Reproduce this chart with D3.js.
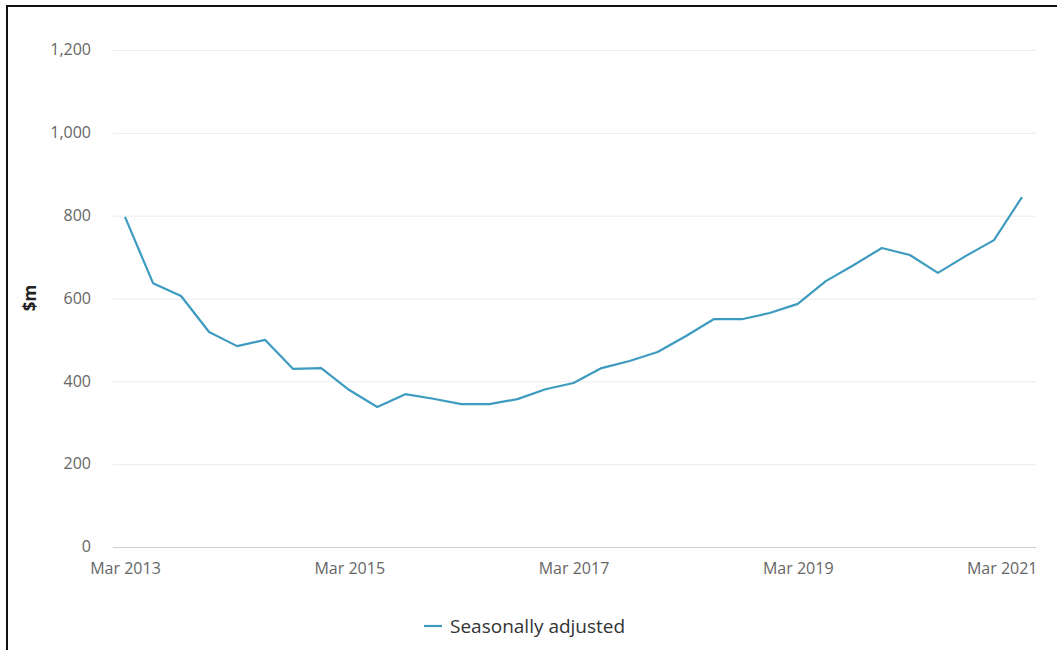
<!DOCTYPE html>
<html>
<head>
<meta charset="utf-8">
<script src="https://cdn.jsdelivr.net/npm/d3@7"></script>
<style>
  html, body { margin: 0; padding: 0; background: #fff; }
  svg { display: block; font-family: "Open Sans", "Noto Sans", sans-serif; }
  svg text { font-family: "Open Sans", "Noto Sans", sans-serif; }
</style>
</head>
<body>
<svg id="chart" width="1057" height="650"></svg>
<script>
const quarters = ["Mar 2013","Jun 2013","Sep 2013","Dec 2013","Mar 2014","Jun 2014","Sep 2014","Dec 2014",
  "Mar 2015","Jun 2015","Sep 2015","Dec 2015","Mar 2016","Jun 2016","Sep 2016","Dec 2016",
  "Mar 2017","Jun 2017","Sep 2017","Dec 2017","Mar 2018","Jun 2018","Sep 2018","Dec 2018",
  "Mar 2019","Jun 2019","Sep 2019","Dec 2019","Mar 2020","Jun 2020","Sep 2020","Dec 2020","Mar 2021"];
const seasonallyAdjusted = [797, 637, 606, 519, 485, 500, 430, 432,
  379, 338, 369, 358, 345, 345, 357, 381,
  396, 432, 449, 471, 509, 550, 550, 565,
  587, 642, 681, 722, 705, 662, 703, 741, 845];
const yTicks = [0, 200, 400, 600, 800, 1000, 1200];
const xTickLabels = ["Mar 2013", "Mar 2015", "Mar 2017", "Mar 2019", "Mar 2021"];
const seriesName = "Seasonally adjusted";
const yTitle = "$m";

const svg = d3.select("#chart");

// frame border (top and left as in the reference)
svg.append("path")
  .attr("d", "M7,650 V6 H1057")
  .attr("fill", "none").attr("stroke", "#111").attr("stroke-width", 2);

const x = d3.scalePoint().domain(quarters).range([125, 1022]);
const y = d3.scaleLinear().domain([0, 1200]).range([547, 50]);
const plotRight = 1037;

// gridlines
svg.append("g").selectAll("line").data(yTicks).join("line")
  .attr("x1", 113).attr("x2", 1036)
  .attr("y1", d => y(d) + 0.5).attr("y2", d => y(d) + 0.5)
  .attr("stroke", d => d === 0 ? "#cfcfcf" : "#ebebeb").attr("stroke-width", 1);

// y axis labels
const yAxis = d3.axisLeft(y).tickValues(yTicks).tickFormat(d3.format(",")).tickSize(0).tickPadding(0);
const gy = svg.append("g").attr("transform", "translate(91,0)").call(yAxis);
gy.attr("font-family", null).attr("font-size", null);
gy.select(".domain").remove();
gy.selectAll("text").attr("fill", "#666").style("font-size", "16px").attr("dy", "0.3em");

// x axis labels
const xAxis = d3.axisBottom(x).tickValues(xTickLabels).tickSize(0).tickPadding(0);
const gx = svg.append("g").attr("transform", "translate(0,563)").call(xAxis);
gx.attr("font-family", null).attr("font-size", null);
gx.select(".domain").remove();
gx.selectAll("text").attr("fill", "#666").style("font-size", "16px");
// keep the last label inside the plot area (right-aligned to its edge)
gx.selectAll(".tick").filter(d => d === xTickLabels[xTickLabels.length - 1])
  .select("text")
  .attr("text-anchor", "end")
  .attr("x", plotRight - x(xTickLabels[xTickLabels.length - 1]));

// y title
svg.append("text")
  .attr("transform", "translate(36,298) rotate(-90)")
  .attr("text-anchor", "middle")
  .attr("fill", "#222")
  .style("font-size", "17px").style("font-weight", "bold")
  .text(yTitle);

// line
const line = d3.line().x((d, i) => x(quarters[i])).y(d => y(d));
svg.append("path")
  .datum(seasonallyAdjusted)
  .attr("d", line)
  .attr("fill", "none")
  .attr("stroke", "#3d9bc0")
  .attr("stroke-width", 2.2)
  .attr("stroke-linejoin", "round");

// legend
const lg = svg.append("g").attr("transform", "translate(424,626)");
lg.append("line").attr("x1", 0).attr("x2", 18).attr("y1", 0).attr("y2", 0)
  .attr("stroke", "#3d9bc0").attr("stroke-width", 2.2);
lg.append("text").attr("x", 26).attr("y", 6.5)
  .attr("fill", "#333").style("font-size", "19px")
  .text(seriesName);
</script>
</body>
</html>
